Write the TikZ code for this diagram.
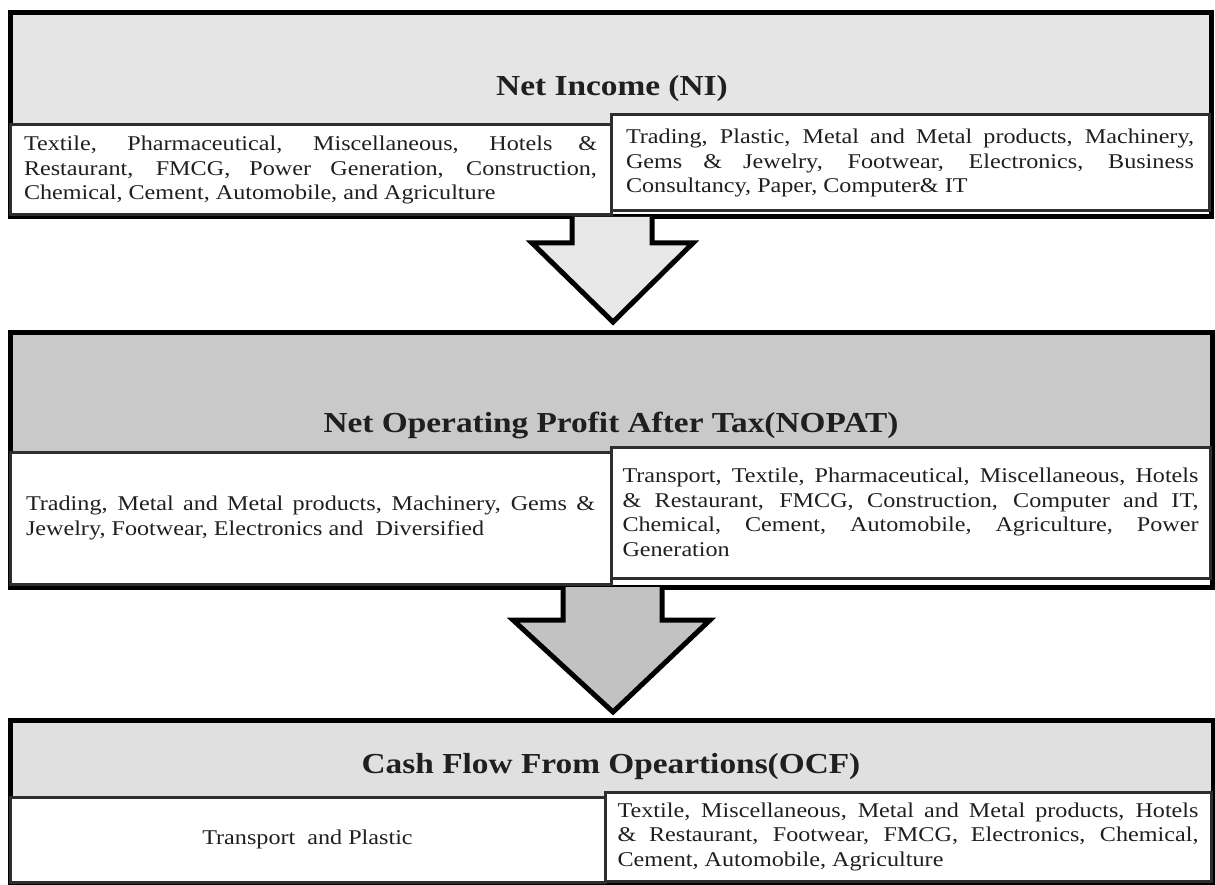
\documentclass[tikz,border=0pt]{standalone}
\usepackage{fontspec}
\setmainfont{Liberation Serif}[FakeStretch=1.15]
\usetikzlibrary{calc}

\definecolor{hdrNI}{gray}{0.90}
\definecolor{hdrNOPAT}{gray}{0.79}
\definecolor{hdrOCF}{gray}{0.88}
\definecolor{arrowA}{gray}{0.91}
\definecolor{arrowB}{gray}{0.76}
\definecolor{cellline}{gray}{0.18}
\definecolor{inktext}{gray}{0.12}

\tikzset{
  panel/.style={draw=black, line width=5pt, fill=white, inner sep=0pt, outer sep=0pt, anchor=north west},
  header/.style={inner sep=0pt, outer sep=0pt, anchor=north west},
  cell/.style={draw=cellline, line width=3pt, fill=white, inner sep=0pt, outer sep=0pt,
               anchor=north west, align=left, text=inktext,
               font=\fontsize{21}{24.5}\selectfont},
  headtext/.style={font=\fontsize{29}{34}\selectfont\bfseries, anchor=base, inner sep=0pt, text=inktext},
  flow/.style={draw=black, line width=5pt, line join=miter},
}

% one justified line of a cell, stretched to the given width
\newcommand\jline[2]{\makebox[#1][s]{#2}}

\begin{document}
\begin{tikzpicture}[x=1pt, y=-1pt]
\useasboundingbox (0,0) rectangle (1215,885);

% ---------- Net Income ----------
\node[header, fill=hdrNI, minimum width=1201pt, minimum height=112pt] (niH) at (10,13) {};
\node[panel, fill=none, minimum width=1201pt, minimum height=204pt] (ni) at (10,13) {};
\node[headtext] (niT) at (612,96) {Net Income (NI)};
\node[cell, minimum width=601pt, minimum height=90pt] (niL) at (10,125) {%
  \jline{573pt}{Textile, Pharmaceutical, Miscellaneous, Hotels \&}\\
  \jline{573pt}{Restaurant, FMCG, Power Generation, Construction,}\\
  Chemical, Cement, Automobile, and Agriculture};
\node[cell, minimum width=598pt, minimum height=96pt] (niR) at (611,115) {%
  \jline{568pt}{Trading, Plastic, Metal and Metal products, Machinery,}\\
  \jline{568pt}{Gems \& Jewelry, Footwear, Electronics, Business}\\
  Consultancy, Paper, Computer\& IT};

% ---------- NOPAT ----------
\node[header, fill=hdrNOPAT, minimum width=1202pt, minimum height=120pt] (nopatH) at (10,332) {};
\node[panel, fill=none, minimum width=1202pt, minimum height=255pt] (nopat) at (10,332) {};
\node[headtext] (nopatT) at (611,432) {Net Operating Profit After Tax(NOPAT)};
\node[cell, minimum width=601pt, minimum height=132pt] (nopatL) at (10,452) {%
  \jline{569pt}{Trading, Metal and Metal products, Machinery, Gems \&}\\
  Jewelry, Footwear, Electronics and~ Diversified};
\node[cell, minimum width=599pt, minimum height=131pt] (nopatR) at (611,447) {%
  \jline{576pt}{Transport, Textile, Pharmaceutical, Miscellaneous, Hotels}\\
  \jline{576pt}{\& Restaurant, FMCG, Construction, Computer and IT,}\\
  \jline{576pt}{Chemical, Cement, Automobile, Agriculture, Power}\\
  Generation};

% ---------- OCF ----------
\node[header, fill=hdrOCF, minimum width=1203pt, minimum height=77pt] (ocfH) at (10,720) {};
\node[panel, fill=none, minimum width=1203pt, minimum height=163pt] (ocf) at (10,720) {};
\node[headtext] (ocfT) at (611,773) {Cash Flow From Opeartions(OCF)};
\node[cell, minimum width=595pt, minimum height=85pt] (ocfL) at (10,797) {Transport~ and Plastic};
\node[cell, minimum width=606pt, minimum height=89pt] (ocfR) at (605,792) {%
  \jline{581pt}{Textile, Miscellaneous, Metal and Metal products, Hotels}\\
  \jline{581pt}{\& Restaurant, Footwear, FMCG, Electronics, Chemical,}\\
  Cement, Automobile, Agriculture};

% ---------- block arrows between the panels ----------
\draw[flow, fill=arrowA]
  ($(ni.south)+(-38.5,0)$) -- ($(ni.south)+(-38.5,26)$) -- ($(ni.south)+(-78.5,26)$)
  -- ($(nopat.north)+(2,-10)$)
  -- ($(ni.south)+(82.5,26)$) -- ($(ni.south)+(41.5,26)$) -- ($(ni.south)+(41.5,0)$);

\draw[flow, fill=arrowB]
  ($(nopat.south)+(-48,0)$) -- ($(nopat.south)+(-48,33)$) -- ($(nopat.south)+(-98,33)$)
  -- ($(ocf.north)+(1.5,-8)$)
  -- ($(nopat.south)+(99,33)$) -- ($(nopat.south)+(51,33)$) -- ($(nopat.south)+(51,0)$);
\end{tikzpicture}
\end{document}
